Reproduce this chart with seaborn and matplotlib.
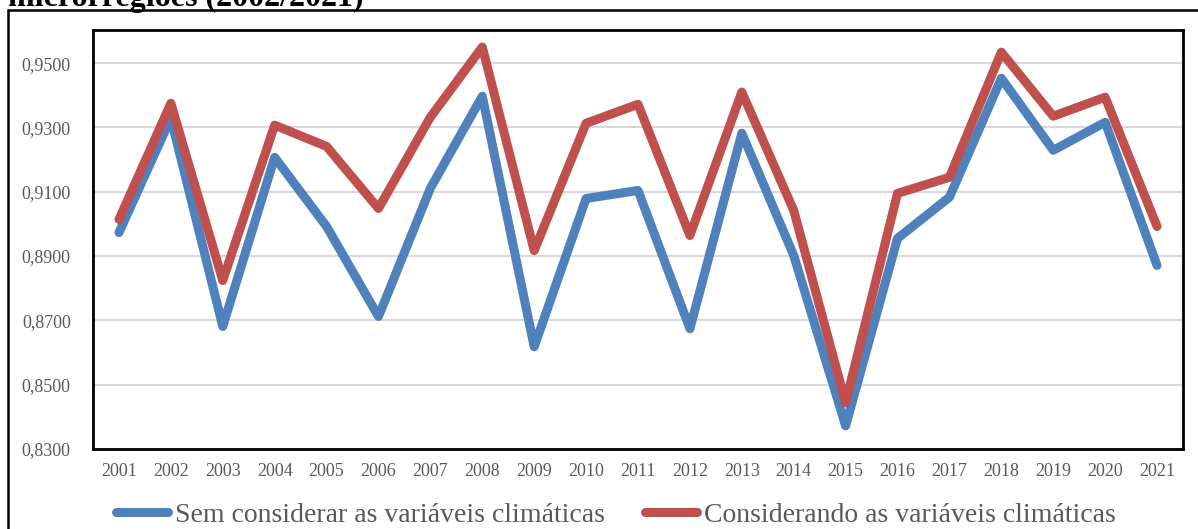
import matplotlib
matplotlib.use("Agg")
import matplotlib.pyplot as plt
import seaborn as sns
import pandas as pd
from matplotlib.patches import Rectangle
from matplotlib.lines import Line2D

years = list(range(2001, 2022))
sem_clima = [0.8973, 0.9329, 0.8681, 0.9207, 0.8992, 0.8712, 0.9111, 0.9397, 0.8618, 0.9079,
             0.9104, 0.8674, 0.9282, 0.8902, 0.8372, 0.8955, 0.9083, 0.9453, 0.9229, 0.9316, 0.8871]
com_clima = [0.9014, 0.9375, 0.8824, 0.9307, 0.9241, 0.9048, 0.9332, 0.9550, 0.8917, 0.9313,
             0.9372, 0.8964, 0.9410, 0.9042, 0.8444, 0.9095, 0.9145, 0.9534, 0.9335, 0.9394, 0.8992]
series_names = ["Sem considerar as variáveis climáticas", "Considerando as variáveis climáticas"]
yticks = [0.83, 0.85, 0.87, 0.89, 0.91, 0.93, 0.95]
title_text = "microrregiões (2002/2021)"

df = pd.DataFrame({
    "ano": years * 2,
    "valor": sem_clima + com_clima,
    "serie": [series_names[0]] * len(years) + [series_names[1]] * len(years),
})

sns.set_theme(style="white")
plt.rcParams["font.family"] = ["Liberation Serif", "DejaVu Serif"]

W, H = 1198, 529
fig = plt.figure(figsize=(W / 100, H / 100), dpi=100)
ax = fig.add_axes([93 / W, (H - 449) / H, (1183 - 93) / W, (449 - 30) / H])

palette = {series_names[0]: "#4F81BD", series_names[1]: "#C0504D"}
sns.lineplot(data=df, x="ano", y="valor", hue="serie", palette=palette, ax=ax,
             linewidth=6.5, legend=False, zorder=3)
for ln in ax.lines:
    ln.set_solid_capstyle("round")
    ln.set_solid_joinstyle("round")

ax.set_xlim(2000.5, 2021.5)
ax.set_ylim(0.83, 0.9603)
ax.set_xticks(years)
ax.set_xticklabels([str(y) for y in years])
ax.set_yticks(yticks)
ax.set_yticklabels([f"{v:.4f}".replace(".", ",") for v in yticks])
ax.tick_params(axis="both", labelsize=13, colors="#595959", length=0)
ax.tick_params(axis="y", pad=16)
ax.tick_params(axis="x", pad=10)
ax.set_xlabel("")
ax.set_ylabel("")
ax.yaxis.grid(True, color="#D9D9D9", linewidth=1.5, zorder=0)
ax.xaxis.grid(False)
for s in ax.spines.values():
    s.set_visible(True)
    s.set_color("black")
    s.set_linewidth(2)

# outer chart box
fig.patches.append(Rectangle((8 / W, -0.05), 1.1, (H - 10) / H + 0.05, transform=fig.transFigure,
                             fill=False, edgecolor="black", linewidth=1.8, clip_on=False))

# title, clipped by the top edge as in the reference
fig.text(8 / W, 1 - 6 / H, title_text, fontsize=23, fontweight="bold", color="black",
         ha="left", va="baseline")

handles = [Line2D([], [], color=palette[n], linewidth=6.5, solid_capstyle="round") for n in series_names]
fig.legend(handles, series_names, loc="center", bbox_to_anchor=(0.514, 1 - 515 / H), ncol=2,
           frameon=False, fontsize=20, labelcolor="#595959", handlelength=1.87,
           handletextpad=0.25, columnspacing=1.44)

fig.savefig("out.png", dpi=100)
